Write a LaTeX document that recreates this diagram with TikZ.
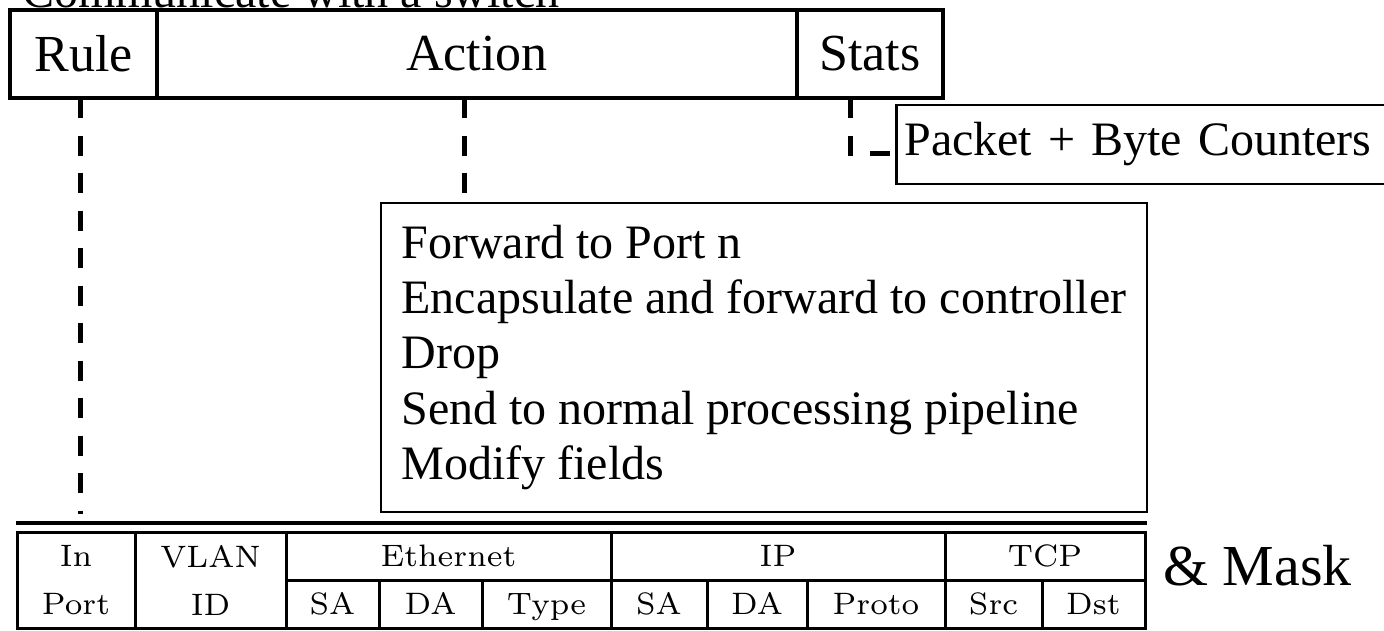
\documentclass[tikz,border=0pt]{standalone}
\usepackage{fontspec}
\newfontfamily\tnr{Liberation Serif}
\newfontfamily\lmr{lmroman7-regular}[Extension=.otf]
\begin{document}
\begin{tikzpicture}[x=1pt,y=-1pt,
  topcell/.style={draw, line width=4pt, inner sep=0pt, minimum height=88pt, font=\tnr\fontsize{52}{60}\selectfont},
  tcell/.style={draw, line width=3pt, inner sep=0pt, minimum height=48pt, text height=21pt, text depth=0pt, font=\lmr\fontsize{31}{48}\selectfont},
  tcell2/.style={draw, line width=3pt, inner sep=0pt, minimum height=96pt, align=center, font=\lmr\fontsize{31}{48}\selectfont},
  dashline/.style={line width=5pt, dash pattern=on 20pt off 17.5pt},
  framebox/.style={draw, line width=2.7pt},
]
\useasboundingbox (0,0) rectangle (1384,630);
% title (cut off at top)
\node[anchor=base west, inner sep=0pt, font=\tnr\fontsize{48}{56}\selectfont] (title) at (22,7) {Communicate with a switch};
% flow entry
\node[topcell, minimum width=147pt] (rule) at (83.5,54) {Rule};
\node[topcell, minimum width=640pt] (action) at (477,54) {Action};
\node[topcell, minimum width=146pt] (stats) at (870,54) {Stats};
% counters box
\node[framebox, anchor=west, minimum height=79pt, inner xsep=8pt, inner ysep=0pt, text width=504pt, align=left,
      font=\tnr\fontsize{48}{56}\selectfont] (packet) at (895,144.5) {Packet + Byte Counters};
% actions box
\node[framebox, minimum width=766pt, minimum height=309pt, inner sep=0pt, align=left,
      font=\tnr\fontsize{48}{55.3}\selectfont] (list) at (764,357.5)
  {Forward to Port n\\Encapsulate and forward to controller\\Drop\\Send to normal processing pipeline\\Modify fields};
% dashed connectors
\coordinate (ruleTop) at (80,98);
\coordinate (ruleEnd) at (80,514);
\coordinate (actTop) at (464,98);
\coordinate (statTop) at (850,98);
\coordinate (pktIn) at (895,153);
\draw[dashline] (ruleTop) -- (ruleEnd);
\draw[dashline] (actTop) -- (actTop |- list.north);
\draw[dashline] (statTop) |- (pktIn);
% header table
\draw[line width=3.5pt] (16,523) -- (1147,523);
\node[tcell2, minimum width=118pt] (inport) at (76,580) {In\\Port};
\node[tcell2, minimum width=151pt] (vlan) at (210.5,580) {VLAN\\ID};
\node[tcell, minimum width=325pt] (eth) at (448.5,556) {Ethernet};
\node[tcell, minimum width=334pt] (ip) at (778,556) {IP};
\node[tcell, minimum width=200pt] (tcp) at (1045,556) {TCP};
\node[tcell, minimum width=93pt] (esa) at (332.5,604) {SA};
\node[tcell, minimum width=103pt] (eda) at (430.5,604) {DA};
\node[tcell, minimum width=129pt] (etype) at (546.5,604) {Type};
\node[tcell, minimum width=96pt] (isa) at (659,604) {SA};
\node[tcell, minimum width=100pt] (ida) at (757,604) {DA};
\node[tcell, minimum width=138pt] (iproto) at (876,604) {Proto};
\node[tcell, minimum width=97pt] (tsrc) at (993.5,604) {Src};
\node[tcell, minimum width=103pt] (tdst) at (1093.5,604) {Dst};
\node[anchor=base west, inner sep=0pt, font=\tnr\fontsize{58}{66}\selectfont] (mask) at (1163,585) {\& Mask};
\end{tikzpicture}
\end{document}
